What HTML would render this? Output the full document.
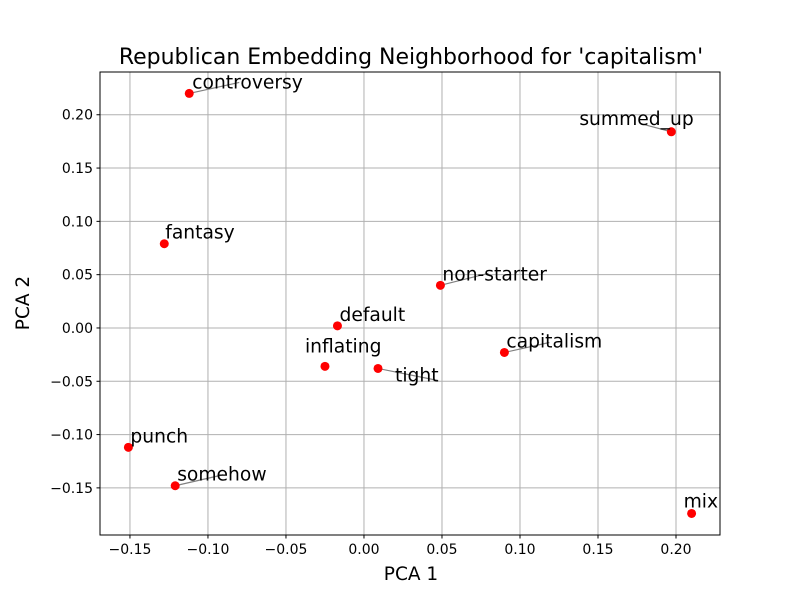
<!DOCTYPE html>
<html><head><meta charset="utf-8"><style>
body{margin:0;background:#fff;}
svg{display:block;font-family:"DejaVu Sans","Liberation Sans",sans-serif;}
</style></head><body>
<svg id="c" width="800" height="600" xmlns="http://www.w3.org/2000/svg"></svg>
<script>
const words=["controversy","summed_up","fantasy","non-starter","default","inflating","tight","capitalism","punch","somehow","mix"];
const xVals=[-0.112,0.197,-0.128,0.049,-0.017,-0.025,0.009,0.090,-0.151,-0.121,0.210];
const yVals=[0.220,0.184,0.079,0.040,0.002,-0.036,-0.038,-0.023,-0.112,-0.148,-0.174];
const xTicks=[-0.15,-0.10,-0.05,0.00,0.05,0.10,0.15,0.20];
const yTicks=[-0.15,-0.10,-0.05,0.00,0.05,0.10,0.15,0.20];
const lblOff=[[3,-5],[-91,-7],[1,-5],[2,-5],[2,-5],[-20,-14],[17,13],[2,-5],[2,-5],[2,-5],[-8,-6]];
const lineOff=[[50,-11],[-30,-8],null,[48,-12],null,null,[60,12],[45,-10],null,[48,-11],null];

const L=100,R=720,T=72,B=535;
const X0=-0.1692,X1=0.2282,Y0=-0.1942,Y1=0.2401;
const sx=v=>L+(v-X0)/(X1-X0)*(R-L);
const sy=v=>B-(v-Y0)/(Y1-Y0)*(B-T);
const svg=document.getElementById('c');
const NS="http://www.w3.org/2000/svg";
function mk(tag,attrs,txt){const e=document.createElementNS(NS,tag);for(const k in attrs)e.setAttribute(k,attrs[k]);if(txt!==undefined)e.textContent=txt;svg.appendChild(e);return e;}
const fmt=v=>(v<0?"\u2212":"")+Math.abs(v).toFixed(2);

xTicks.forEach(t=>{const x=sx(t);
 let g=mk('line',{x1:x,x2:x,y1:T,y2:B,stroke:'#b0b0b0','stroke-width':1});
 
 let k=mk('line',{x1:x,x2:x,y1:B,y2:B+3.5,stroke:'#000'});
 
 let tx=mk('text',{x:x,y:B+19,'text-anchor':'middle','font-size':14},fmt(t));
 
});
yTicks.forEach(t=>{const y=sy(t);
 let g=mk('line',{x1:L,x2:R,y1:y,y2:y,stroke:'#b0b0b0','stroke-width':1});
 
 let k=mk('line',{x1:L-3.5,x2:L,y1:y,y2:y,stroke:'#000'});
 
 let tx=mk('text',{x:L-7,y:y+5,'text-anchor':'end','font-size':14},fmt(t));
 
});
words.forEach((w,i)=>{const x=sx(xVals[i]),y=sy(yVals[i]);
 if(lineOff[i]){let l=mk('line',{x1:x,y1:y,x2:x+lineOff[i][0],y2:y+lineOff[i][1],stroke:'#808080','stroke-width':1.2});
  }
});
words.forEach((w,i)=>{const x=sx(xVals[i]),y=sy(yVals[i]);
 let c=mk('circle',{cx:x,cy:y,r:4.5,fill:'#ff0000'});
 
 let ox=lblOff[i][0];if(w==='summed_up')ox=-92;
 let t=mk('text',{x:x+ox,y:y+lblOff[i][1],'font-size':18.7},w);
 
});
let fr=mk('rect',{x:L,y:T,width:R-L,height:B-T,fill:'none',stroke:'#000','stroke-width':1});

let ti=mk('text',{x:411,y:64,'text-anchor':'middle','font-size':22},"Republican Embedding Neighborhood for 'capitalism'");

let xl=mk('text',{x:411,y:580,'text-anchor':'middle','font-size':18.5},"PCA 1");

let yl=mk('text',{x:29,y:303,'text-anchor':'middle','font-size':18.5,transform:'rotate(-90 29 303)'},"PCA 2");

</script>
</body></html>
